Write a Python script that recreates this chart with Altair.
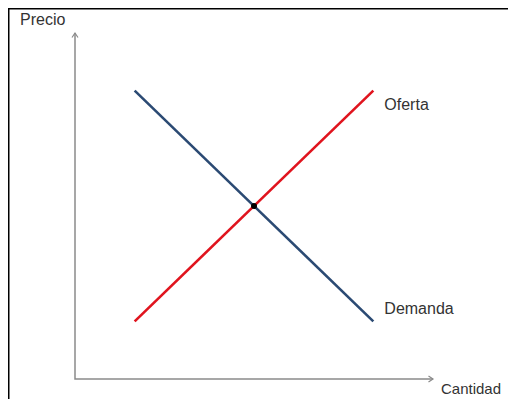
import altair as alt
import pandas as pd

# ---- data ----
series_names = ["Demanda", "Oferta"]
series_colors = ["#2B4A73", "#E0141E"]
demand_q = [2, 10]
demand_p = [10, 2]
supply_q = [2, 10]
supply_p = [2, 10]
equilibrium_q = [6]
equilibrium_p = [6]
axis_q = [0, 0, 12]
axis_p = [12, 0, 0]
x_title = "Cantidad"
y_title = "Precio"

FONT = "Liberation Sans"
TXT = "#333333"
AXC = "#8a8a8a"

lines_df = pd.DataFrame({
    "q": demand_q + supply_q,
    "p": demand_p + supply_p,
    "serie": [series_names[0]] * len(demand_q) + [series_names[1]] * len(supply_q),
    "o": list(range(len(demand_q))) + list(range(len(supply_q))),
})
axis_df = pd.DataFrame({"q": axis_q, "p": axis_p, "o": list(range(len(axis_q)))})
eq_df = pd.DataFrame({"q": equilibrium_q, "p": equilibrium_p})

xs = alt.Scale(domain=[0, 12], range=[67, 425])
ys = alt.Scale(domain=[0, 12], range=[371, 25])
X = lambda: alt.X("q:Q", scale=xs, axis=None)
Y = lambda: alt.Y("p:Q", scale=ys, axis=None)

base_one = alt.Chart(pd.DataFrame({"a": [0]}))
border_left = base_one.mark_rule(color="black", strokeWidth=1.5).encode(
    x=alt.value(0.75), y=alt.value(0), y2=alt.value(391))
border_top = base_one.mark_rule(color="black", strokeWidth=1.5).encode(
    y=alt.value(0.75), x=alt.value(0), x2=alt.value(500))

axes = alt.Chart(axis_df).mark_line(color=AXC, strokeWidth=1.5).encode(
    x=X(), y=Y(), order="o:Q")

y_end = pd.DataFrame({"q": [axis_q[0]], "p": [axis_p[0]]})
x_end = pd.DataFrame({"q": [axis_q[-1]], "p": [axis_p[-1]]})
arrow_y = alt.Chart(y_end).mark_point(
    shape="M-0.6,0.9L0,0L0.6,0.9", filled=False, stroke=AXC, strokeWidth=1.2,
    size=100, opacity=1).encode(x=X(), y=Y())
arrow_x = alt.Chart(x_end).mark_point(
    shape="M-0.9,-0.6L0,0L-0.9,0.6", filled=False, stroke=AXC, strokeWidth=1.2,
    size=100, opacity=1).encode(x=X(), y=Y())

curves = alt.Chart(lines_df).mark_line(strokeWidth=2.6).encode(
    x=X(), y=Y(), order="o:Q",
    color=alt.Color("serie:N", scale=alt.Scale(domain=series_names, range=series_colors), legend=None),
    detail="serie:N")

dot = alt.Chart(eq_df).mark_circle(color="black", size=36, opacity=1).encode(x=X(), y=Y())

supply_end = pd.DataFrame({"q": [supply_q[-1]], "p": [supply_p[-1]], "t": [series_names[1]]})
demand_end = pd.DataFrame({"q": [demand_q[-1]], "p": [demand_p[-1]], "t": [series_names[0]]})
lab_sup = alt.Chart(supply_end).mark_text(
    align="left", baseline="middle", dx=11, dy=14, font=FONT, fontSize=16, color=TXT
).encode(x=X(), y=Y(), text="t:N")
lab_dem = alt.Chart(demand_end).mark_text(
    align="left", baseline="middle", dx=11, dy=-12, font=FONT, fontSize=16, color=TXT
).encode(x=X(), y=Y(), text="t:N")

xt = pd.DataFrame({"q": [axis_q[-1]], "p": [axis_p[-1]], "t": [x_title]})
yt = pd.DataFrame({"q": [axis_q[0]], "p": [axis_p[0]], "t": [y_title]})
title_x = alt.Chart(xt).mark_text(
    align="left", baseline="middle", dx=8, dy=10, font=FONT, fontSize=15, color=TXT
).encode(x=X(), y=Y(), text="t:N")
title_y = alt.Chart(yt).mark_text(
    align="left", baseline="middle", dx=-55, dy=-13, font=FONT, fontSize=16, color=TXT
).encode(x=X(), y=Y(), text="t:N")

chart = alt.layer(
    border_left, border_top, axes, arrow_y, arrow_x, curves, dot,
    lab_sup, lab_dem, title_x, title_y
).properties(
    width=500, height=391, padding=0,
    autosize=alt.AutoSizeParams(type="none"),
    background="white",
).configure_view(stroke=None)

chart.save("out.html", embed_options={"renderer": "svg", "actions": False})
